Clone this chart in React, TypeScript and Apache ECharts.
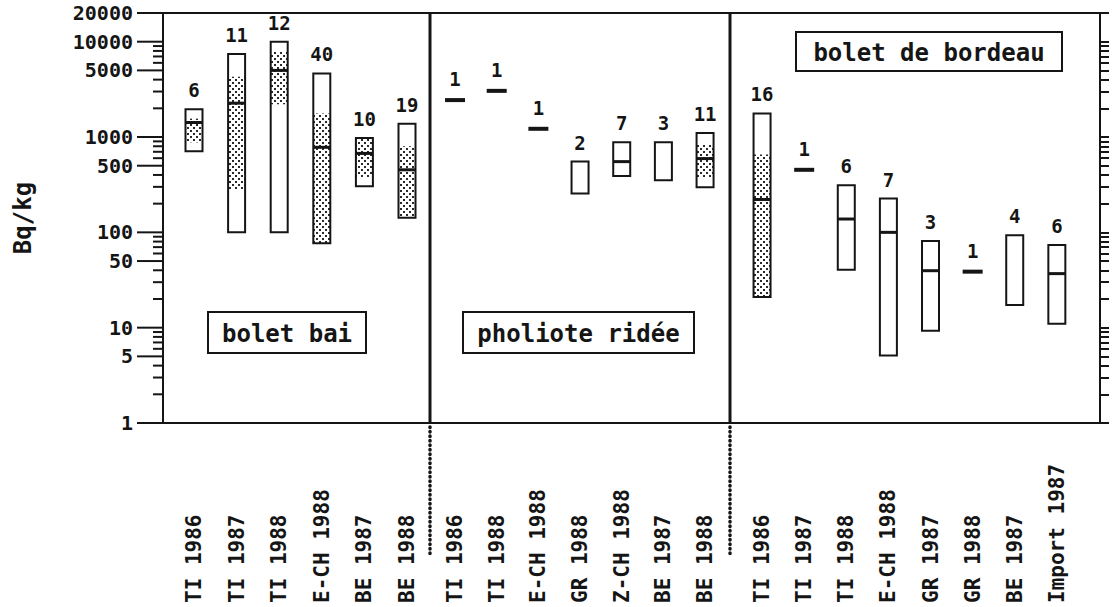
import React, { useEffect, useRef } from "react";
import * as echarts from "echarts";

// ---------- data ----------
const panelNames = ["bolet bai", "pholiote ridée", "bolet de bordeau"];

const cats1 = ["TI 1986", "TI 1987", "TI 1988", "E-CH 1988", "BE 1987", "BE 1988"];
const n1 = [6, 11, 12, 40, 10, 19];
const min1 = [710, 100, 100, 77, 305, 142];
const lo1 = [880, 283, 2210, 77, 381, 142];
const med1 = [1420, 2265, 5000, 780, 673, 453];
const hi1 = [1560, 4300, 8000, 1770, 975, 800];
const max1 = [1950, 7430, 10000, 4640, 975, 1380];

const cats2 = ["TI 1986", "TI 1988", "E-CH 1988", "GR 1988", "Z-CH 1988", "BE 1987", "BE 1988"];
const n2 = [1, 1, 1, 2, 7, 3, 11];
const min2 = [2440, 3050, 1220, 256, 390, 353, 297];
const lo2 = [null, null, null, null, null, null, 372];
const med2 = [null, null, null, null, 552, null, 594];
const hi2 = [null, null, null, null, null, null, 841];
const max2 = [2440, 3050, 1220, 552, 883, 883, 1104];

const cats3 = ["TI 1986", "TI 1987", "TI 1988", "E-CH 1988", "GR 1987", "GR 1988", "BE 1987", "Import 1987"];
const n3 = [16, 1, 6, 7, 3, 1, 4, 6];
const min3 = [21, 453, 40.6, 5.1, 9.3, 38.7, 17.3, 11];
const lo3 = [21, null, null, null, null, null, null, null];
const med3 = [221, null, 138, 100, 39.6, null, null, 36.9];
const hi3 = [656, null, null, null, null, null, null, null];
const max3 = [1770, 453, 312, 226, 81, 38.7, 93, 73.5];

const yTickLabels = [1, 5, 10, 50, 100, 500, 1000, 5000, 10000, 20000];
const yMinorTicks = [
  2, 3, 4, 6, 7, 8, 9,
  20, 30, 40, 60, 70, 80, 90,
  200, 300, 400, 600, 700, 800, 900,
  2000, 3000, 4000, 6000, 7000, 8000, 9000,
];
const yName = "Bq/kg";

// ---------- layout / style ----------
const W = 1115;
const H = 607;
const INK = "#151515";
const MONO = '"DejaVu Sans Mono", "Liberation Mono", monospace';
const PLOT_TOP = 13;
const PLOT_BOTTOM = 423;
const PLOT_LEFT = 163;
const PLOT_RIGHT = 1100;
const MAJOR_TICK_LEN = 26;
const MINOR_TICK_LEN = 10;
const DIVIDERS = [430, 730];
const DOT_END = 556;
const PANEL_SLOTS = [
  { left: 172.7, width: 255.6 },
  { left: 434.2, width: 291.7 },
  { left: 741, width: 336.9 },
];
const NAME_BOXES = [
  { x: 208, y: 312, w: 158, h: 41 },
  { x: 463, y: 312, w: 231, h: 41 },
  { x: 796, y: 32, w: 266, h: 39 },
];
const BOX_W = 17;
const SINGLE_W = 20;

const panels = [
  { cats: cats1, n: n1, min: min1, lo: lo1, med: med1, hi: hi1, max: max1 },
  { cats: cats2, n: n2, min: min2, lo: lo2, med: med2, hi: hi2, max: max2 },
  { cats: cats3, n: n3, min: min3, lo: lo3, med: med3, hi: hi3, max: max3 },
];

function makeStipple() {
  const c = document.createElement("canvas");
  c.width = 6;
  c.height = 6;
  const ctx = c.getContext("2d");
  if (ctx) {
    ctx.fillStyle = "#ffffff";
    ctx.fillRect(0, 0, 6, 6);
    ctx.fillStyle = "#2a2a2a";
    ctx.fillRect(1, 1, 2, 2);
    ctx.fillRect(4, 4, 2, 2);
  }
  return { image: c.toDataURL(), repeat: "repeat", imageWidth: 6, imageHeight: 6 };
}

export default function App() {
  const ref = useRef<HTMLDivElement>(null);

  useEffect(() => {
    if (!ref.current) return;
    const chart = echarts.init(ref.current, null, { renderer: "svg" });
    const stipple = makeStipple();
    const ok = (v: any) => typeof v === "number" && isFinite(v) && v > 0;

    const renderBox = (params: any, api: any) => {
      const x = api.value(0);
      const vmin = api.value(1);
      const vlo = api.value(2);
      const vmed = api.value(3);
      const vhi = api.value(4);
      const vmax = api.value(5);
      const n = api.value(6);
      const top = api.coord([x, vmax]);
      const cx = top[0];
      const children: any[] = [];
      let labelY = top[1];
      if (vmin === vmax) {
        children.push({
          type: "rect",
          shape: { x: cx - SINGLE_W / 2, y: top[1] - 2, width: SINGLE_W, height: 4 },
          style: { fill: INK },
        });
        labelY = top[1] - 2;
      } else {
        const bot = api.coord([x, vmin]);
        const bx = cx - BOX_W / 2;
        const shape = { x: bx, y: top[1], width: BOX_W, height: bot[1] - top[1] };
        children.push({ type: "rect", shape, style: { fill: "#ffffff" } });
        if (ok(vlo) && ok(vhi)) {
          const a = api.coord([x, vhi])[1];
          const b = api.coord([x, vlo])[1];
          children.push({
            type: "rect",
            shape: { x: bx, y: a, width: BOX_W, height: b - a },
            style: { fill: stipple },
          });
        }
        children.push({ type: "rect", shape, style: { fill: "none", stroke: INK, lineWidth: 2 } });
        if (ok(vmed)) {
          const m = api.coord([x, vmed])[1];
          children.push({
            type: "rect",
            shape: { x: bx, y: m - 1.5, width: BOX_W, height: 3 },
            style: { fill: INK },
          });
        }
      }
      children.push({
        type: "text",
        x: cx,
        y: labelY - 19,
        style: {
          text: String(n),
          fill: INK,
          fontFamily: MONO,
          fontWeight: "bold",
          fontSize: 19,
          align: "center",
          verticalAlign: "middle",
        },
      });
      return { type: "group", children };
    };

    const gridBase = { top: PLOT_TOP, bottom: H - PLOT_BOTTOM, outerBoundsMode: "none", containLabel: false };
    const grids: any[] = [
      { ...gridBase, left: PLOT_LEFT, right: W - PLOT_RIGHT },
      ...PANEL_SLOTS.map((s) => ({ ...gridBase, left: s.left, width: s.width })),
    ];

    const frameX = (position: string) => ({
      type: "value",
      gridIndex: 0,
      position,
      min: 0,
      max: 1,
      axisLine: { show: true, onZero: false, lineStyle: { color: INK, width: 2 } },
      axisTick: { show: false },
      axisLabel: { show: false },
      splitLine: { show: false },
    });

    const xAxes: any[] = [
      frameX("bottom"),
      frameX("top"),
      ...panels.map((p, i) => ({
        type: "category",
        gridIndex: i + 1,
        data: p.cats,
        position: "bottom",
        axisLine: { show: false },
        axisTick: { show: false },
        splitLine: { show: false },
        axisLabel: {
          interval: 0,
          rotate: 90,
          align: "left",
          verticalAlign: "middle",
          margin: 180,
          color: INK,
          fontFamily: MONO,
          fontWeight: "bold",
          fontSize: 21,
        },
      })),
    ];

    const logBase = { type: "log", logBase: 10, min: 1, max: 20000, splitLine: { show: false } };
    const yAxes: any[] = [
      {
        ...logBase,
        gridIndex: 0,
        position: "left",
        name: yName,
        nameLocation: "middle",
        nameRotate: 90,
        nameGap: 128,
        nameTextStyle: { color: INK, fontFamily: MONO, fontWeight: "bold", fontSize: 24 },
        axisLine: { show: true, lineStyle: { color: INK, width: 2 } },
        axisTick: { show: false },
        axisLabel: {
          customValues: yTickLabels,
          margin: 30,
          color: INK,
          fontFamily: MONO,
          fontWeight: "bold",
          fontSize: 20,
          formatter: (v: number) => String(Math.round(v)),
        },
      },
      {
        ...logBase,
        gridIndex: 0,
        position: "right",
        axisLine: { show: true, onZero: false, lineStyle: { color: INK, width: 2 } },
        axisTick: {
          show: true,
          length: 9,
          customValues: [...yTickLabels, ...yMinorTicks],
          lineStyle: { color: INK, width: 2 },
        },
        axisLabel: { show: false },
      },
      ...panels.map((_, i) => ({ ...logBase, gridIndex: i + 1, show: false })),
    ];

    const series: any[] = panels.map((p, i) => ({
      type: "custom",
      xAxisIndex: i + 2,
      yAxisIndex: i + 2,
      clip: false,
      renderItem: renderBox,
      encode: { x: 0, y: [1, 5] },
      data: p.cats.map((_, k) => [
        k,
        p.min[k],
        p.lo[k] == null ? NaN : p.lo[k],
        p.med[k] == null ? NaN : p.med[k],
        p.hi[k] == null ? NaN : p.hi[k],
        p.max[k],
        p.n[k],
      ]),
    }));

    chart.setOption({
      animation: false,
      backgroundColor: "#ffffff",
      grid: grids,
      xAxis: xAxes,
      yAxis: yAxes,
      series,
    });

    const graphics: any[] = [];
    DIVIDERS.forEach((x) => {
      graphics.push({
        type: "line",
        shape: { x1: x, y1: PLOT_TOP, x2: x, y2: PLOT_BOTTOM },
        style: { stroke: INK, lineWidth: 3 },
        z: 10,
      });
      graphics.push({
        type: "line",
        shape: { x1: x, y1: PLOT_BOTTOM + 4, x2: x, y2: DOT_END },
        style: { stroke: INK, lineWidth: 3.5, lineDash: [0.5, 4], lineCap: "round" },
        z: 10,
      });
    });
    NAME_BOXES.forEach((b, i) => {
      graphics.push({
        type: "group",
        z: 10,
        children: [
          {
            type: "rect",
            shape: { x: b.x, y: b.y, width: b.w, height: b.h },
            style: { fill: "#ffffff", stroke: INK, lineWidth: 2 },
          },
          {
            type: "text",
            x: b.x + b.w / 2,
            y: b.y + b.h / 2 + 1,
            style: {
              text: panelNames[i],
              fill: INK,
              fontFamily: MONO,
              fontWeight: "bold",
              fontSize: 24,
              align: "center",
              verticalAlign: "middle",
            },
          },
        ],
      });
    });
    // outward left ticks, placed through the left log axis' own scale
    const leftTicks = [
      ...yTickLabels.map((v) => ({ v, len: MAJOR_TICK_LEN })),
      ...yMinorTicks.map((v) => ({ v, len: MINOR_TICK_LEN })),
    ];
    leftTicks.forEach(({ v, len }) => {
      const y = chart.convertToPixel({ yAxisIndex: 0 }, v) as unknown as number;
      if (typeof y === "number" && isFinite(y)) {
        graphics.push({
          type: "line",
          shape: { x1: PLOT_LEFT - len, y1: y, x2: PLOT_LEFT, y2: y },
          style: { stroke: INK, lineWidth: 2 },
          z: 5,
        });
      }
    });

    chart.setOption({ graphic: graphics });

    return () => chart.dispose();
  }, []);

  return (
    <div
      ref={ref}
      style={{ position: "fixed", left: 0, top: 0, width: W, height: H, background: "#ffffff" }}
    />
  );
}
